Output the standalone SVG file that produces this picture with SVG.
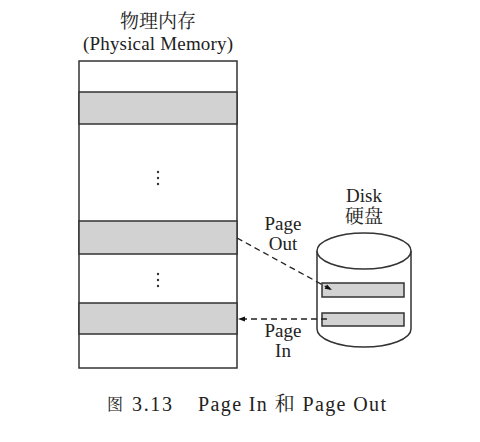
<svg xmlns="http://www.w3.org/2000/svg" width="480" height="442" viewBox="0 0 480 442">
<defs>
<style>
.t{font-family:"Liberation Serif","Noto Serif CJK SC","Noto Sans CJK SC",serif;fill:#222;}
.box{fill:#fff;stroke:#333;stroke-width:1.5;}
.band{fill:#d2d2d2;stroke:#333;stroke-width:1.5;}
.dash{stroke:#222;stroke-width:1.3;stroke-dasharray:6,4;fill:none;}
.dot{fill:#333;}
</style>
<marker id="ah" viewBox="0 0 10 10" refX="10" refY="5" markerWidth="11" markerHeight="7" markerUnits="userSpaceOnUse" orient="auto">
<path d="M0,1.5 L10,5 L0,8.5 z" fill="#111"/>
</marker>
</defs>
<rect width="480" height="442" fill="#fff"/>
<g id="memory">
<text class="t" x="158" y="28" font-size="19" text-anchor="middle">物理内存</text>
<text class="t" x="158" y="50" font-size="19" text-anchor="middle" textLength="150" lengthAdjust="spacing">(Physical Memory)</text>
<rect class="box" x="79" y="61" width="158" height="307"/>
<rect class="band" x="79" y="92" width="158" height="32"/>
<rect class="band" x="79" y="221" width="158" height="33"/>
<rect class="band" x="79" y="303" width="158" height="31"/>
<circle class="dot" cx="158" cy="172" r="1.2"/>
<circle class="dot" cx="158" cy="178" r="1.2"/>
<circle class="dot" cx="158" cy="184" r="1.2"/>
<circle class="dot" cx="158" cy="274" r="1.2"/>
<circle class="dot" cx="158" cy="280" r="1.2"/>
<circle class="dot" cx="158" cy="286" r="1.2"/>
</g>
<g id="disk">
<text class="t" x="364" y="202" font-size="19" text-anchor="middle">Disk</text>
<text class="t" x="364" y="223" font-size="19" text-anchor="middle">硬盘</text>
<path d="M317,251 L317,329 A47,18 0 0 0 411,329 L411,251" fill="#fff" stroke="#333" stroke-width="1.5"/>
<ellipse cx="364" cy="251" rx="47" ry="18" fill="#fff" stroke="#333" stroke-width="1.5"/>
<rect class="band" x="322" y="283" width="82" height="14"/>
<rect class="band" x="322" y="313" width="82" height="13"/>
</g>
<g id="connectors">
<line class="dash" x1="237" y1="238" x2="332" y2="290" marker-end="url(#ah)"/>
<line class="dash" x1="327" y1="319" x2="238" y2="319" marker-end="url(#ah)"/>
</g>
<g id="labels">
<text class="t" x="283" y="230" font-size="19" text-anchor="middle">Page</text>
<text class="t" x="283" y="250" font-size="19" text-anchor="middle">Out</text>
<text class="t" x="283" y="337" font-size="19" text-anchor="middle">Page</text>
<text class="t" x="283" y="357" font-size="19" text-anchor="middle">In</text>
</g>
<g id="caption">
<text class="t" x="107" y="410" font-size="16">图</text>
<text class="t" x="132" y="411" font-size="20" textLength="40" lengthAdjust="spacing">3.13</text>
<text class="t" x="198" y="411" font-size="20" textLength="188" lengthAdjust="spacing">Page In 和 Page Out</text>
</g>
</svg>
